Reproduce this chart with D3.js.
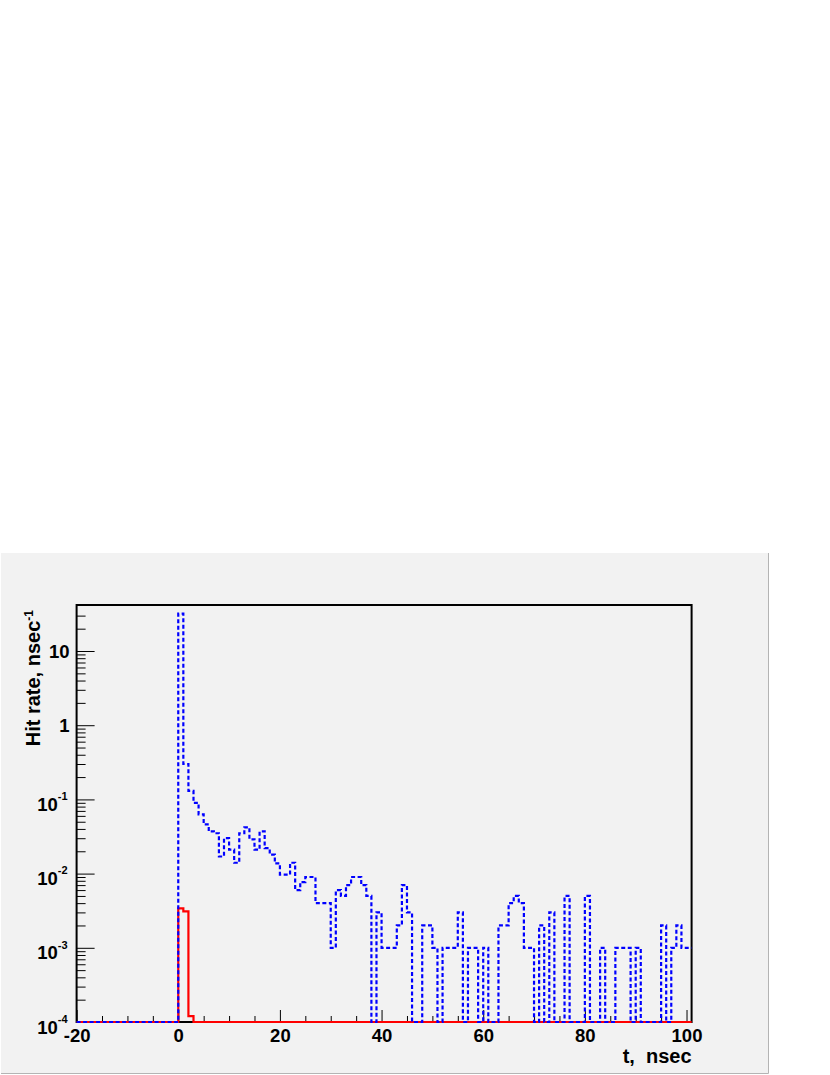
<!DOCTYPE html>
<html>
<head>
<meta charset="utf-8">
<script src="https://cdn.jsdelivr.net/npm/d3@7"></script>
<style>
  html, body { margin: 0; padding: 0; background: #ffffff; }
  svg { display: block; }
  text { font-family: "Liberation Sans", Arial, Helvetica, sans-serif; font-weight: bold; fill: #000; }
</style>
</head>
<body>
<svg id="chart" width="830" height="1075"></svg>
<script>
// ---- data (1 ns bins starting at t = -20) ----
const binStart = -20;
const binWidth = 1;
const xDomain = [-20, 101];
const yDomain = [1e-4, 41.7];

// blue dashed histogram, bins -20 .. 100
const blueValues = [
  0, 0, 0, 0, 0, 0, 0, 0, 0, 0,            // -20 .. -11
  0, 0, 0, 0, 0, 0, 0, 0, 0, 0,            // -10 .. -1
  32, 0.3, 0.13, 0.09, 0.063, 0.046, 0.037, 0.035, 0.017, 0.03,        // 0 .. 9
  0.021, 0.014, 0.035, 0.042, 0.029, 0.021, 0.037, 0.022, 0.018, 0.0137, // 10 .. 19
  0.0097, 0.0097, 0.014, 0.006, 0.0077, 0.009, 0.009, 0.004, 0.004, 0.004, // 20 .. 29
  0.001, 0.006, 0.005, 0.007, 0.009, 0.009, 0.007, 0.005, 0, 0.003,    // 30 .. 39
  0.001, 0.001, 0.001, 0.002, 0.007, 0.003, 0, 0, 0.002, 0.002,        // 40 .. 49
  0.001, 0, 0.001, 0.001, 0.001, 0.003, 0, 0.001, 0.001, 0,            // 50 .. 59
  0.001, 0, 0, 0.002, 0.002, 0.004, 0.005, 0.004, 0.001, 0.001,        // 60 .. 69
  0, 0.002, 0, 0.003, 0, 0, 0.005, 0, 0, 0,                            // 70 .. 79
  0.005, 0, 0, 0.001, 0, 0, 0.001, 0.001, 0.001, 0,                    // 80 .. 89
  0.001, 0, 0, 0, 0, 0.002, 0, 0.001, 0.002, 0.001,                    // 90 .. 99
  0.001                                                                // 100
];

// red solid histogram, bins -20 .. 100
const redValues = [
  0, 0, 0, 0, 0, 0, 0, 0, 0, 0,
  0, 0, 0, 0, 0, 0, 0, 0, 0, 0,
  0.0034, 0.0031, 0.00012, 0, 0, 0, 0, 0, 0, 0,
  0, 0, 0, 0, 0, 0, 0, 0, 0, 0,
  0, 0, 0, 0, 0, 0, 0, 0, 0, 0,
  0, 0, 0, 0, 0, 0, 0, 0, 0, 0,
  0, 0, 0, 0, 0, 0, 0, 0, 0, 0,
  0, 0, 0, 0, 0, 0, 0, 0, 0, 0,
  0, 0, 0, 0, 0, 0, 0, 0, 0, 0,
  0, 0, 0, 0, 0, 0, 0, 0, 0, 0,
  0, 0, 0, 0, 0, 0, 0, 0, 0, 0,
  0, 0, 0, 0, 0, 0, 0, 0, 0, 0,
  0
];

const xMajorTicks = [-20, 0, 20, 40, 60, 80, 100];
const xTickLabels = ["-20", "0", "20", "40", "60", "80", "100"];
const xMinorTicks = [-15, -10, -5, 5, 10, 15, 25, 30, 35, 45, 50, 55, 65, 70, 75, 85, 90, 95];
const yMajorTicks = [1e-4, 1e-3, 1e-2, 1e-1, 1, 10];
const yTickBase = ["10", "10", "10", "10", "1", "10"];
const yTickExp = ["-4", "-3", "-2", "-1", "", ""];
const xTitle = "t,  nsec";
const yTitle = "Hit rate, nsec";
const yTitleExp = "-1";

// ---- layout ----
const svg = d3.select("#chart");
const frame = { left: 76.6, right: 691.6, top: 605, bottom: 1022 };

const x = d3.scaleLinear().domain(xDomain).range([frame.left, frame.right]);
const y = d3.scaleLog().domain(yDomain).range([frame.bottom, frame.top]);

// canvas panel
svg.append("rect").attr("x", 0).attr("y", 0).attr("width", 830).attr("height", 1075).attr("fill", "#ffffff");
svg.append("rect").attr("x", 1).attr("y", 553).attr("width", 767).attr("height", 520).attr("fill", "#f2f2f2");
svg.append("line").attr("x1", 768.5).attr("x2", 768.5).attr("y1", 553).attr("y2", 1073.5)
  .attr("stroke", "#b4b4b4").attr("stroke-width", 1);
svg.append("line").attr("x1", 1).attr("x2", 768.5).attr("y1", 1073.5).attr("y2", 1073.5)
  .attr("stroke", "#b4b4b4").attr("stroke-width", 1);

svg.append("defs").append("clipPath").attr("id", "plotclip")
  .append("rect").attr("x", frame.left - 1).attr("y", frame.top - 1)
  .attr("width", frame.right - frame.left + 2).attr("height", frame.bottom - frame.top + 3);

// ---- axes ----
const xMajor = svg.append("g").attr("transform", `translate(0,${frame.bottom})`)
  .call(d3.axisBottom(x).tickValues(xMajorTicks).tickSize(-12).tickFormat(""));
const xMinor = svg.append("g").attr("transform", `translate(0,${frame.bottom})`)
  .call(d3.axisBottom(x).tickValues(xMinorTicks).tickSize(-6).tickFormat(""));

const yMinorVals = [];
yMajorTicks.forEach(d => { for (let k = 2; k <= 9; k++) { const v = d * k; if (v < 35) yMinorVals.push(v); } });
const yMajor = svg.append("g").attr("transform", `translate(${frame.left},0)`)
  .call(d3.axisLeft(y).tickValues(yMajorTicks).tickSize(-18).tickFormat(""));
const yMinor = svg.append("g").attr("transform", `translate(${frame.left},0)`)
  .call(d3.axisLeft(y).tickValues(yMinorVals).tickSize(-9).tickFormat(""));

[xMajor, xMinor, yMajor, yMinor].forEach(g => {
  g.select(".domain").remove();
  g.selectAll(".tick line").attr("stroke", "#000").attr("stroke-width", 1);
  g.selectAll(".tick text").remove();
});

// x tick labels
xMajor.selectAll(".tick").each(function(d, i) {
  d3.select(this).append("text")
    .attr("x", 0).attr("y", 19.7)
    .attr("text-anchor", "middle")
    .attr("font-size", "18.5px")
    .text(xTickLabels[i]);
});

// y tick labels
yMajor.selectAll(".tick").each(function(d, i) {
  const g = d3.select(this);
  if (yTickExp[i]) {
    const t = g.append("text").attr("x", -9).attr("y", 11).attr("text-anchor", "end").attr("font-size", "18.5px");
    t.append("tspan").text(yTickBase[i]);
    t.append("tspan").attr("dy", -10.7).attr("font-size", "11px").text(yTickExp[i]);
  } else {
    g.append("text").attr("x", -7).attr("y", 6.6).attr("text-anchor", "end").attr("font-size", "18.5px")
      .text(yTickBase[i]);
  }
});

// frame
svg.append("rect")
  .attr("x", frame.left).attr("y", frame.top)
  .attr("width", frame.right - frame.left).attr("height", frame.bottom - frame.top)
  .attr("fill", "none").attr("stroke", "#000").attr("stroke-width", 2);

// ---- histograms (drawn over the frame, as in the original) ----
function yv(v) {
  const [lo, hi] = yDomain;
  if (!(v > lo)) return y(lo);
  return y(Math.min(v, hi));
}
function stepPath(values) {
  const p = d3.path();
  const edge = i => x(binStart + i * binWidth);
  p.moveTo(edge(0), yv(values[0]));
  for (let i = 0; i < values.length; i++) {
    p.lineTo(edge(i + 1), yv(values[i]));
    if (i + 1 < values.length) p.lineTo(edge(i + 1), yv(values[i + 1]));
  }
  return p.toString();
}

const plot = svg.append("g").attr("clip-path", "url(#plotclip)");
plot.append("path").attr("d", stepPath(redValues))
  .attr("fill", "none").attr("stroke", "#ff0000").attr("stroke-width", 2.2);
plot.append("path").attr("d", stepPath(blueValues))
  .attr("fill", "none").attr("stroke", "#0000ff").attr("stroke-width", 2.2)
  .attr("stroke-dasharray", "4,2.5");

// axis titles
svg.append("text")
  .attr("x", frame.right).attr("y", 1063)
  .attr("text-anchor", "end").attr("font-size", "20px")
  .attr("xml:space", "preserve").style("white-space", "pre")
  .text(xTitle);

const yt = svg.append("text")
  .attr("transform", "translate(40,610) rotate(-90)")
  .attr("text-anchor", "end").attr("font-size", "20px");
yt.append("tspan").text(yTitle);
yt.append("tspan").attr("dy", -7.5).attr("font-size", "12px").text(yTitleExp);
</script>
</body>
</html>
